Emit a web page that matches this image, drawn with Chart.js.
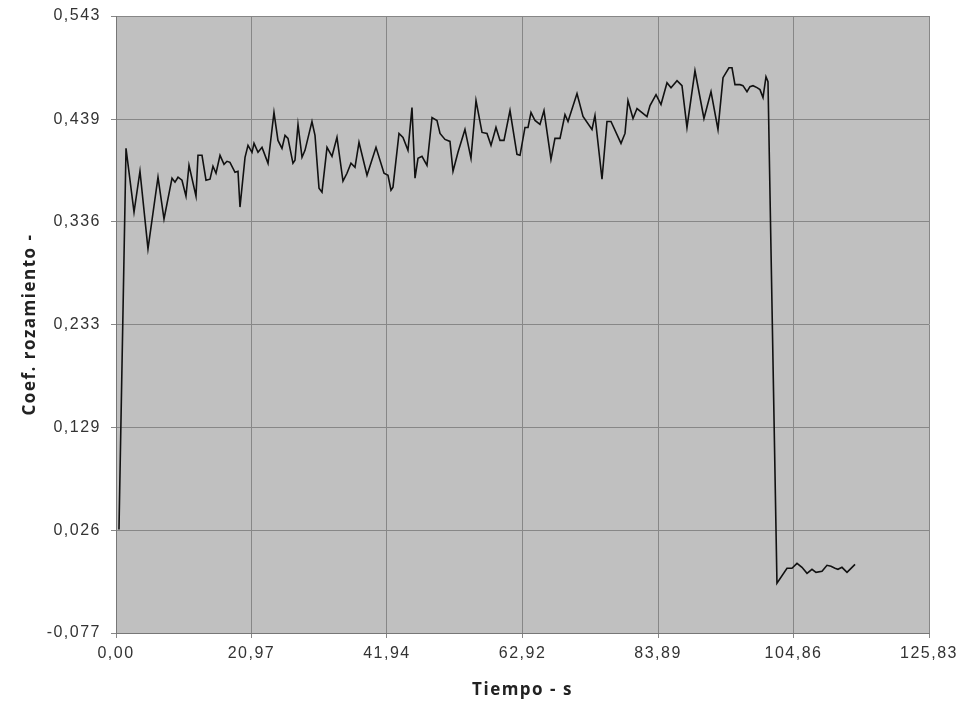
<!DOCTYPE html>
<html>
<head>
<meta charset="utf-8">
<title>Coef. rozamiento</title>
<script src="https://cdn.jsdelivr.net/npm/chart.js@4.4.1/dist/chart.umd.min.js"></script>
<style>
  html, body { margin: 0; padding: 0; background: #fff; }
  #wrap { width: 964px; height: 704px; position: relative; }
</style>
</head>
<body>
<div id="wrap"><canvas id="friction"></canvas></div>
<script>
'use strict';

// time (s) and friction coefficient
const tiempo = [
  0.46, 1.55, 2.79, 3.71, 4.95, 6.50, 7.43, 8.67, 9.13, 9.60,
  10.21, 10.83, 11.30, 12.38, 12.69, 13.31, 13.93, 14.55, 15.01, 15.48,
  16.10, 16.72, 17.18, 17.64, 18.42, 18.88, 19.19, 19.97, 20.43, 21.05,
  21.36, 21.98, 22.60, 23.53, 24.45, 25.07, 25.69, 26.16, 26.62, 27.39,
  27.70, 28.17, 28.79, 29.25, 30.33, 30.80, 31.42, 31.88, 32.66, 33.43,
  34.20, 35.13, 35.75, 36.37, 36.99, 37.61, 38.85, 40.24, 41.48, 42.10,
  42.56, 42.87, 43.80, 44.42, 45.19, 45.81, 46.28, 46.74, 47.36, 48.13,
  48.91, 49.68, 50.15, 50.92, 51.69, 52.16, 52.93, 54.01, 54.94, 55.72,
  56.65, 57.42, 58.04, 58.81, 59.43, 60.05, 60.98, 62.06, 62.53, 63.30,
  63.77, 64.23, 64.85, 65.62, 66.24, 67.32, 67.94, 68.72, 69.49, 69.96,
  71.35, 72.28, 73.67, 74.13, 75.22, 75.99, 76.61, 78.16, 78.78, 79.24,
  80.02, 80.64, 82.18, 82.65, 83.58, 84.35, 85.28, 85.90, 86.83, 87.60,
  88.37, 89.61, 91.00, 92.09, 93.17, 93.95, 94.87, 95.34, 95.80, 96.58,
  97.04, 97.66, 98.12, 98.59, 99.21, 99.67, 100.14, 100.60, 100.91, 102.30,
  103.85, 104.62, 105.40, 106.17, 106.95, 107.72, 108.34, 109.27, 110.04, 110.66,
  111.28, 111.74, 112.36, 113.14, 113.76, 114.38
];
const coef = [
  0.027, 0.410, 0.346, 0.387, 0.309, 0.381, 0.339, 0.380, 0.376, 0.381,
  0.378, 0.362, 0.393, 0.362, 0.403, 0.403, 0.378, 0.379, 0.392, 0.385,
  0.403, 0.394, 0.397, 0.396, 0.386, 0.387, 0.351, 0.401, 0.413, 0.406,
  0.415, 0.406, 0.411, 0.395, 0.446, 0.418, 0.410, 0.423, 0.420, 0.395,
  0.398, 0.434, 0.401, 0.408, 0.437, 0.423, 0.370, 0.366, 0.411, 0.402,
  0.421, 0.377, 0.385, 0.395, 0.391, 0.416, 0.383, 0.411, 0.385, 0.383,
  0.368, 0.371, 0.425, 0.421, 0.408, 0.451, 0.380, 0.400, 0.402, 0.393,
  0.441, 0.438, 0.425, 0.419, 0.417, 0.387, 0.406, 0.429, 0.400, 0.458,
  0.426, 0.425, 0.413, 0.431, 0.418, 0.418, 0.448, 0.404, 0.403, 0.431,
  0.431, 0.446, 0.438, 0.434, 0.448, 0.399, 0.420, 0.420, 0.444, 0.437,
  0.465, 0.442, 0.429, 0.443, 0.379, 0.437, 0.437, 0.415, 0.425, 0.458,
  0.440, 0.450, 0.442, 0.453, 0.464, 0.454, 0.476, 0.471, 0.478, 0.473,
  0.431, 0.488, 0.440, 0.467, 0.429, 0.481, 0.491, 0.491, 0.474, 0.474,
  0.473, 0.467, 0.472, 0.473, 0.471, 0.469, 0.461, 0.482, 0.477, -0.027,
  -0.012, -0.012, -0.007, -0.011, -0.017, -0.013, -0.016, -0.015, -0.009, -0.010,
  -0.012, -0.013, -0.011, -0.016, -0.012, -0.008
];

const xTicks = [0, 20.97, 41.94, 62.92, 83.89, 104.86, 125.83];
const yTicks = [-0.077, 0.026, 0.129, 0.233, 0.336, 0.439, 0.543];

const GRID = '#878787';
const TICK_FONT = { family: '"Liberation Sans", Arial, sans-serif', size: 16 };
const TITLE_FONT = { family: '"Open Sans", "Noto Sans", sans-serif', size: 17, weight: 'bold' };

function comma(v, d) { return Number(v).toFixed(d).replace('.', ','); }

// spreadsheet-style wide lettering, set before measuring and drawing
const spacing = {
  id: 'spacing',
  beforeUpdate(chart) { chart.ctx.letterSpacing = '1.5px'; },
  beforeDraw(chart) { chart.ctx.letterSpacing = '1.5px'; }
};

// grey plot background
const plotBg = {
  id: 'plotBg',
  beforeDraw(chart) {
    const { ctx, chartArea: a } = chart;
    ctx.save();
    ctx.fillStyle = '#c0c0c0';
    ctx.fillRect(a.left, a.top, a.right - a.left, a.bottom - a.top);
    ctx.restore();
  }
};

new Chart(document.getElementById('friction'), {
  type: 'line',
  data: {
    datasets: [{
      data: tiempo.map((t, i) => ({ x: t, y: coef[i] })),
      borderColor: '#111',
      borderWidth: 1.6,
      pointRadius: 0,
      tension: 0,
      fill: false,
    }]
  },
  options: {
    responsive: true,
    maintainAspectRatio: false,
    animation: false,
    layout: { padding: { top: 16, right: 35, left: 0, bottom: 0 } },
    plugins: { legend: { display: false }, tooltip: { enabled: false } },
    scales: {
      x: {
        type: 'linear',
        min: xTicks[0],
        max: xTicks[xTicks.length - 1],
        afterBuildTicks: s => { s.ticks = xTicks.map(v => ({ value: v })); },
        afterFit: s => { s.height = 71; s.paddingRight = 0; },
        grid: { color: GRID, lineWidth: 1, tickLength: 5, drawTicks: true },
        border: { color: '#777', width: 1 },
        ticks: {
          color: '#333', font: TICK_FONT, padding: 6, maxRotation: 0,
          callback: v => comma(v, 2)
        },
        title: { display: true, text: 'Tiempo - s', color: '#222', font: TITLE_FONT, padding: { top: 1 } }
      },
      y: {
        min: yTicks[0],
        max: yTicks[yTicks.length - 1],
        afterBuildTicks: s => { s.ticks = yTicks.map(v => ({ value: v })); },
        afterFit: s => { s.width = 116; s.paddingTop = 0; s.paddingBottom = 0; },
        grid: { color: GRID, lineWidth: 1, tickLength: 5, drawTicks: true },
        border: { color: '#777', width: 1 },
        ticks: {
          color: '#333', font: TICK_FONT, padding: 10,
          callback: v => comma(v, 3)
        },
        title: { display: true, text: 'Coef. rozamiento -', color: '#222', font: TITLE_FONT, padding: { top: 20, bottom: 4 } }
      }
    }
  },
  plugins: [spacing, plotBg]
});
</script>
</body>
</html>
